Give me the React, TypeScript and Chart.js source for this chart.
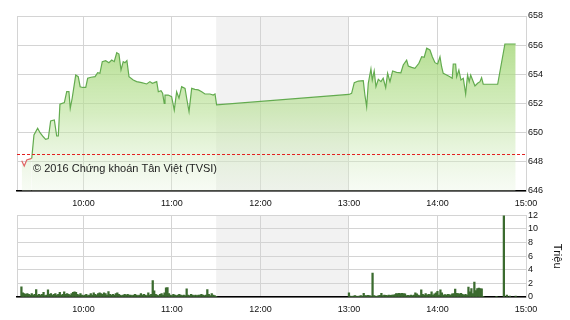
import React, { useEffect, useRef } from "react";
import { Chart, registerables } from "chart.js";
Chart.register(...registerables);

// ---- data ----
const REF_PRICE = 648.52;
const LUNCH = [690, 780]; // 11:30 - 13:00 (minutes of day)
const X_MIN = 555;
const X_MAX = 900;
const xTickMinutes = [555, 600, 660, 720, 780, 840, 900];
const xTickLabels = ["", "10:00", "11:00", "12:00", "13:00", "14:00", "15:00"];

const priceTimes = [
  558.2, 559.9, 561.6, 565.0, 566.5, 569.0, 570.6, 572.8, 574.4, 576.2, 577.8, 580.3, 581.9, 583.0, 584.1,
  587.1, 588.7, 590.2, 591.1, 592.4, 594.8, 596.5, 597.8, 599.5, 601.6, 602.9, 605.2, 607.9, 609.7, 611.2,
  612.8, 615.1, 617.3, 619.2, 620.9, 622.6, 624.1, 625.5, 627.0, 628.2, 629.5, 630.9, 633.8, 636.1, 639.5,
  642.9, 645.1, 646.7, 648.0, 649.7, 650.8, 652.6, 653.7, 654.8, 655.3, 657.5, 659.8, 661.6, 663.2, 664.8,
  666.6, 668.9, 670.0, 671.6, 673.4, 675.6, 677.9, 680.2, 682.4, 685.8, 688.0, 689.2, 690.3,
  780, 781.8, 783.6, 786.3, 789.7, 790.8, 792.0, 793.1, 794.9, 795.8, 797.1, 798.3, 799.9, 801.7, 803.2,
  804.9, 806.2, 807.8, 809.6, 812.3, 815.2, 816.8, 819.1, 820.2, 822.5, 824.7, 827.4, 829.3, 831.0, 832.7,
  834.9, 836.5, 838.3, 840.1, 841.7, 842.8, 843.9, 846.2, 848.4, 850.0, 850.7, 852.3, 853.0, 854.5, 855.9,
  857.5, 859.1, 860.4, 861.5, 862.5, 863.8, 865.4, 867.2, 868.8, 869.9, 871.0, 880.8, 885.7, 893.0,
];
const priceValues = [
  648.08, 647.71, 648.13, 648.24, 649.84, 650.3, 650.0, 649.72, 649.54, 649.6, 650.8, 650.87, 649.77, 649.77, 651.95,
  652.06, 652.81, 652.81, 651.67, 652.36, 653.95, 653.84, 653.15, 653.1, 653.1, 653.73, 653.8, 653.84, 654.11, 654.07,
  654.87, 654.94, 654.8, 654.98, 654.87, 655.48, 655.39, 654.3, 654.87, 654.8, 654.94, 653.84, 653.61, 653.5, 653.43,
  653.34, 653.5, 653.39, 653.43, 653.5, 652.81, 652.88, 652.7, 652.01, 652.58, 652.58, 652.47, 651.55, 652.81, 652.36,
  653.15, 653.04, 652.36, 651.44, 653.04, 652.97, 652.93, 652.81, 652.65, 652.65, 652.58, 652.65, 651.9,
  652.62, 652.7, 653.43, 653.54, 653.56, 652.58, 651.78, 653.39, 654.37, 653.61, 654.23, 653.15, 653.66, 653.5, 653.73,
  653.09, 654.07, 653.5, 654.23, 654.14, 654.11, 654.64, 654.98, 654.57, 654.48, 654.41, 654.76, 655.21, 655.17, 655.79,
  655.67, 655.21, 654.8, 654.71, 655.21, 654.52, 654.07, 653.95, 653.84, 653.73, 654.71, 654.71, 653.84, 654.3, 653.61,
  653.73, 652.65, 653.95, 653.5, 653.95, 653.61, 653.2, 653.39, 653.5, 653.77, 653.32, 653.32, 656.08, 656.08,
];

// volume (millions), one bar per minute
const volMorningStart = 558;
const volMorning = [
  1.5, 0.6, 0.5, 0.4, 0.5, 0.4, 0.3, 0.5, 0.3, 0.4,
  1.1, 0.3, 0.4, 0.3, 0.4, 0.7, 0.2, 0.3, 1.05, 0.4,
  0.5, 0.3, 0.4, 0.5, 0.3, 0.4, 0.7, 0.3, 0.4, 0.75,
  0.4, 0.5, 0.4, 0.3, 0.5, 0.7, 0.75, 0.7, 0.4, 0.3,
  0.5, 0.3, 0.2, 0.3, 0.4, 0.2, 0.3, 0.5, 0.3, 0.6,
  0.4, 0.3, 0.5, 0.6, 0.5, 0.4, 0.6, 0.5, 0.3, 0.8,
  0.4, 0.3, 0.4, 0.3, 0.5, 0.6, 0.4, 0.3, 0.2, 0.3,
  0.4, 0.3, 0.4, 0.3, 0.3, 0.2, 0.3, 0.4, 0.3, 0.2,
  0.3, 0.5, 0.3, 0.4, 0.3, 0.2, 0.6, 0.3, 0.4, 2.4,
  0.9, 0.4, 0.3, 0.2, 0.4, 0.5, 0.3, 0.6, 1.35, 1.4,
  0.5, 0.3, 0.2, 0.4, 0.3, 0.2, 0.3, 0.4, 0.3, 0.2,
  0.3, 0.2, 1.2, 0.3, 0.2, 0.4, 0.3, 0.2, 0.3, 0.2,
  0.3, 0.3, 0.4, 0.3, 0.2, 0.3, 1.1, 0.4, 0.2, 0.5,
  0.3, 0.2, 0.1,
];
const volAfternoonStart = 780;
const volAfternoon = [
  0.6, 0.15, 0.1, 0.15, 0.2, 0.15, 0.1, 0.15, 0.2, 0.15,
  0.55, 0.2, 0.2, 0.25, 0.2, 0.15, 3.5, 0.2, 0.15, 0.1,
  0.2, 0.25, 0.55, 0.2, 0.3, 0.25, 0.2, 0.3, 0.25, 0.3,
  0.3, 0.35, 0.5, 0.5, 0.55, 0.5, 0.55, 0.5, 0.45, 0.2,
  0.25, 0.2, 0.3, 0.2, 0.3, 0.6, 0.45, 0.3, 0.2, 1.05,
  0.4, 0.3, 0.5, 0.3, 0.4, 0.35, 0.75, 0.3, 0.45, 0.6,
  0.85, 0.3, 1.05, 0.6, 0.3, 0.35, 0.3, 0.4, 0.35, 0.3,
  0.45, 0.5, 1.15, 0.55, 0.5, 0.45, 0.55, 0.4, 0.3, 0.4,
  0.3, 1.45, 0.75, 1.25, 0.5, 2.2, 0.95, 1.25, 1.3, 1.25,
  1.2, 0.1,
];
const volTailTimes = [880, 885, 887, 889, 893];
const volTailValues = [0.1, 12, 0.3, 0.15, 0.15];

// ---- style ----
const FONT = '"Liberation Sans", Arial, sans-serif';
const GRID = "#d4d4d4";
const GREEN = "#63ab4f";
const RED_LINE = "#e06666";
const BAR = "#3b6b2f";
const W = 570;
const H1 = 208;
const H2 = 112;

const xTicksBuild = (s: any) => {
  s.ticks = xTickMinutes.map((v) => ({ value: v }));
};
const xTickLabel = (v: any) => {
  const i = xTickMinutes.indexOf(Number(v));
  return i >= 0 ? xTickLabels[i] : "";
};

const lunchPlugin = {
  id: "lunch",
  beforeDraw(chart: any) {
    const { ctx, chartArea, scales } = chart;
    const x0 = scales.x.getPixelForValue(LUNCH[0]);
    const x1 = scales.x.getPixelForValue(LUNCH[1]);
    ctx.save();
    ctx.fillStyle = "#f2f2f2";
    ctx.fillRect(x0, chartArea.top, x1 - x0, chartArea.bottom - chartArea.top);
    ctx.restore();
  },
};

const refPlugin = {
  id: "refline",
  afterDatasetsDraw(chart: any) {
    const { ctx, chartArea, scales } = chart;
    const y = Math.round(scales.y.getPixelForValue(REF_PRICE)) + 0.5;
    ctx.save();
    ctx.strokeStyle = "#e32020";
    ctx.lineWidth = 1;
    ctx.setLineDash([3, 2]);
    ctx.beginPath();
    ctx.moveTo(chartArea.left, y);
    ctx.lineTo(chartArea.right, y);
    ctx.stroke();
    ctx.restore();
  },
};

const watermarkPlugin = {
  id: "watermark",
  afterDraw(chart: any) {
    const { ctx } = chart;
    ctx.save();
    ctx.font = `11px ${FONT}`;
    ctx.fillStyle = "#222";
    ctx.textBaseline = "middle";
    ctx.textAlign = "left";
    ctx.fillText("© 2016 Chứng khoán Tân Việt (TVSI)", 33, 169);
    ctx.restore();
  },
};

export default function App() {
  const ref1 = useRef<HTMLCanvasElement>(null);
  const ref2 = useRef<HTMLCanvasElement>(null);

  useEffect(() => {
    const priceData = priceTimes.map((t, i) => ({ x: t, y: priceValues[i] }));
    const volData = [
      ...volMorning.map((v, i) => ({ x: volMorningStart + i, y: v })),
      ...volAfternoon.map((v, i) => ({ x: volAfternoonStart + i, y: v })),
      ...volTailTimes.map((t, i) => ({ x: t, y: volTailValues[i] })),
    ];

    const tickFont = { family: FONT, size: 9 };

    const c1 = new Chart(ref1.current as HTMLCanvasElement, {
      type: "line",
      data: {
        datasets: [
          {
            data: priceData,
            borderWidth: 1.2,
            pointRadius: 0,
            tension: 0,
            fill: "start",
            borderColor: GREEN,
            segment: {
              borderColor: (c: any) =>
                c.p0.parsed.y < REF_PRICE && c.p1.parsed.y < REF_PRICE ? RED_LINE : GREEN,
            },
            backgroundColor: (context: any) => {
              const { chart } = context;
              const { ctx, chartArea } = chart;
              if (!chartArea) return "rgba(0,0,0,0)";
              const g = ctx.createLinearGradient(0, chartArea.top, 0, chartArea.bottom);
              g.addColorStop(0, "rgba(150,208,100,0.85)");
              g.addColorStop(0.55, "rgba(185,225,150,0.6)");
              g.addColorStop(1, "rgba(228,242,218,0.3)");
              return g;
            },
          },
        ],
      },
      options: {
        responsive: false,
        animation: false,
        layout: { padding: { left: 17, top: 16, right: 0, bottom: 0 } },
        plugins: { legend: { display: false }, tooltip: { enabled: false } },
        scales: {
          x: {
            type: "linear",
            min: X_MIN,
            max: X_MAX,
            afterBuildTicks: xTicksBuild,
            afterFit: (s: any) => {
              s.height = H1 - 191;
            },
            grid: { color: GRID, drawTicks: false },
            border: { color: "#000", width: 1.5 },
            ticks: {
              callback: xTickLabel,
              autoSkip: false,
              maxRotation: 0,
              padding: 7,
              color: "#111",
              font: tickFont,
            },
          },
          y: {
            position: "right",
            min: 646,
            max: 658,
            afterFit: (s: any) => {
              s.width = W - 526;
            },
            grid: { color: GRID, drawTicks: false },
            border: { color: GRID },
            ticks: { stepSize: 2, autoSkip: false, padding: 2, color: "#111", font: tickFont },
          },
        },
      },
      plugins: [lunchPlugin, refPlugin, watermarkPlugin],
    } as any);

    const c2 = new Chart(ref2.current as HTMLCanvasElement, {
      type: "bar",
      data: {
        datasets: [
          {
            data: volData,
            backgroundColor: BAR,
            barThickness: 1.6,
            grouped: false,
          },
        ],
      },
      options: {
        responsive: false,
        animation: false,
        layout: { padding: { left: 17, top: 6, right: 0, bottom: 0 } },
        plugins: { legend: { display: false }, tooltip: { enabled: false } },
        scales: {
          x: {
            type: "linear",
            min: X_MIN,
            max: X_MAX,
            offset: false,
            afterBuildTicks: xTicksBuild,
            afterFit: (s: any) => {
              s.height = H2 - 89;
            },
            grid: { color: GRID, drawTicks: false, offset: false },
            border: { color: "#000", width: 1.5 },
            ticks: {
              callback: xTickLabel,
              autoSkip: false,
              maxRotation: 0,
              padding: 7,
              color: "#111",
              font: tickFont,
            },
          },
          y: {
            position: "right",
            min: 0,
            max: 12,
            afterFit: (s: any) => {
              s.width = W - 526;
            },
            grid: { color: GRID, drawTicks: false },
            border: { color: GRID },
            ticks: { stepSize: 2, autoSkip: false, padding: 2, color: "#111", font: tickFont },
            title: {
              display: true,
              text: "Triệu",
              color: "#111",
              font: { family: FONT, size: 11 },
              padding: { top: 6, bottom: 0 },
            },
          },
        },
      },
      plugins: [lunchPlugin],
    } as any);

    return () => {
      c1.destroy();
      c2.destroy();
    };
  }, []);

  return (
    <div style={{ position: "fixed", left: 0, top: 0, width: W, height: H1 + H2, background: "#fff" }}>
      <canvas ref={ref1} width={W} height={H1} style={{ position: "absolute", left: 0, top: 0, width: W, height: H1 }} />
      <canvas ref={ref2} width={W} height={H2} style={{ position: "absolute", left: 0, top: H1, width: W, height: H2 }} />
    </div>
  );
}
